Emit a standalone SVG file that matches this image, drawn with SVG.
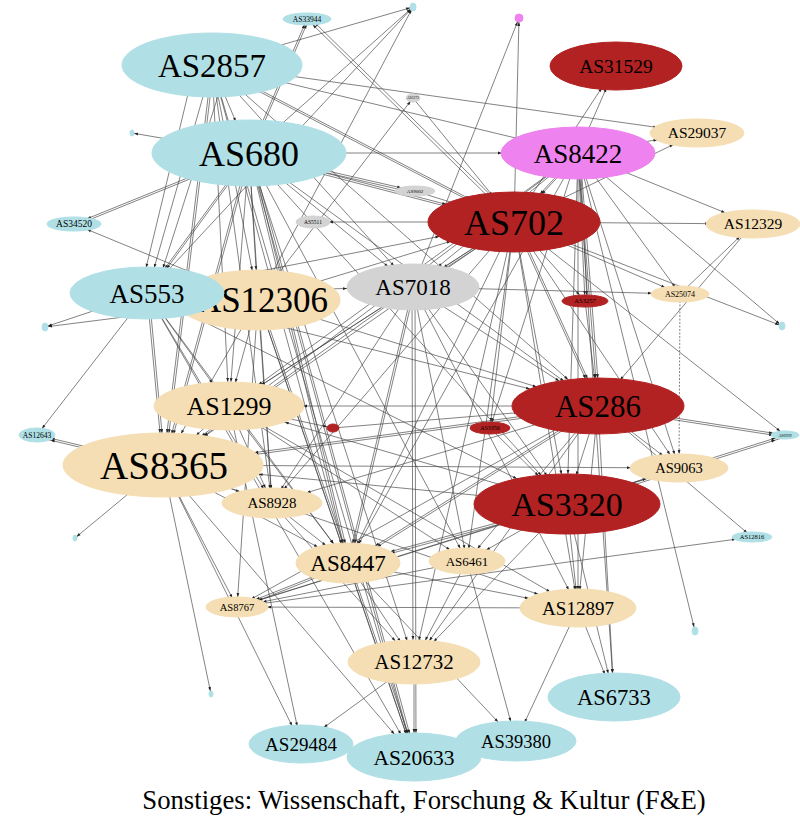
<svg xmlns="http://www.w3.org/2000/svg" width="800" height="835" viewBox="0 0 800 835">
<style>
.e line{stroke:#404040;stroke-width:0.65;fill:none}
marker path{fill:#222}
.blue{fill:#b0e0e6;stroke:#b0e0e6}
.wheat{fill:#f5deb3;stroke:#f5deb3}
.red{fill:#b22222;stroke:#b22222}
.vio{fill:#ee82ee;stroke:#ee82ee}
.grey{fill:#d3d3d3;stroke:#d3d3d3}
text{font-family:"Liberation Serif","Times New Roman",serif;text-anchor:middle;fill:#000}
</style>
<defs>
<marker id="a2" markerUnits="userSpaceOnUse" markerWidth="1" markerHeight="1" orient="auto" style="overflow:visible"><path d="M-6,-1.4L-2,0L-6,1.4z"/></marker>
<marker id="a3" markerUnits="userSpaceOnUse" markerWidth="1" markerHeight="1" orient="auto" style="overflow:visible"><path d="M-7,-1.4L-3,0L-7,1.4z"/></marker>
<marker id="a4" markerUnits="userSpaceOnUse" markerWidth="1" markerHeight="1" orient="auto" style="overflow:visible"><path d="M-8,-1.4L-4,0L-8,1.4z"/></marker>
<marker id="a6" markerUnits="userSpaceOnUse" markerWidth="1" markerHeight="1" orient="auto" style="overflow:visible"><path d="M-10,-1.4L-6,0L-10,1.4z"/></marker>
<marker id="a8" markerUnits="userSpaceOnUse" markerWidth="1" markerHeight="1" orient="auto" style="overflow:visible"><path d="M-12,-1.4L-8,0L-12,1.4z"/></marker>
<marker id="a10" markerUnits="userSpaceOnUse" markerWidth="1" markerHeight="1" orient="auto" style="overflow:visible"><path d="M-14,-1.4L-10,0L-14,1.4z"/></marker>
<marker id="a12" markerUnits="userSpaceOnUse" markerWidth="1" markerHeight="1" orient="auto" style="overflow:visible"><path d="M-16,-1.4L-12,0L-16,1.4z"/></marker>
<marker id="a14" markerUnits="userSpaceOnUse" markerWidth="1" markerHeight="1" orient="auto" style="overflow:visible"><path d="M-18,-1.4L-14,0L-18,1.4z"/></marker>
<marker id="a16" markerUnits="userSpaceOnUse" markerWidth="1" markerHeight="1" orient="auto" style="overflow:visible"><path d="M-20,-1.4L-16,0L-20,1.4z"/></marker>
<marker id="a18" markerUnits="userSpaceOnUse" markerWidth="1" markerHeight="1" orient="auto" style="overflow:visible"><path d="M-22,-1.4L-18,0L-22,1.4z"/></marker>
<marker id="a20" markerUnits="userSpaceOnUse" markerWidth="1" markerHeight="1" orient="auto" style="overflow:visible"><path d="M-24,-1.4L-20,0L-24,1.4z"/></marker>
<marker id="a22" markerUnits="userSpaceOnUse" markerWidth="1" markerHeight="1" orient="auto" style="overflow:visible"><path d="M-26,-1.4L-22,0L-26,1.4z"/></marker>
<marker id="a24" markerUnits="userSpaceOnUse" markerWidth="1" markerHeight="1" orient="auto" style="overflow:visible"><path d="M-28,-1.4L-24,0L-28,1.4z"/></marker>
<marker id="a26" markerUnits="userSpaceOnUse" markerWidth="1" markerHeight="1" orient="auto" style="overflow:visible"><path d="M-30,-1.4L-26,0L-30,1.4z"/></marker>
<marker id="a28" markerUnits="userSpaceOnUse" markerWidth="1" markerHeight="1" orient="auto" style="overflow:visible"><path d="M-32,-1.4L-28,0L-32,1.4z"/></marker>
<marker id="a30" markerUnits="userSpaceOnUse" markerWidth="1" markerHeight="1" orient="auto" style="overflow:visible"><path d="M-34,-1.4L-30,0L-34,1.4z"/></marker>
<marker id="a32" markerUnits="userSpaceOnUse" markerWidth="1" markerHeight="1" orient="auto" style="overflow:visible"><path d="M-36,-1.4L-32,0L-36,1.4z"/></marker>
<marker id="a34" markerUnits="userSpaceOnUse" markerWidth="1" markerHeight="1" orient="auto" style="overflow:visible"><path d="M-38,-1.4L-34,0L-38,1.4z"/></marker>
<marker id="a36" markerUnits="userSpaceOnUse" markerWidth="1" markerHeight="1" orient="auto" style="overflow:visible"><path d="M-40,-1.4L-36,0L-40,1.4z"/></marker>
<marker id="a38" markerUnits="userSpaceOnUse" markerWidth="1" markerHeight="1" orient="auto" style="overflow:visible"><path d="M-42,-1.4L-38,0L-42,1.4z"/></marker>
<marker id="a40" markerUnits="userSpaceOnUse" markerWidth="1" markerHeight="1" orient="auto" style="overflow:visible"><path d="M-44,-1.4L-40,0L-44,1.4z"/></marker>
<marker id="a42" markerUnits="userSpaceOnUse" markerWidth="1" markerHeight="1" orient="auto" style="overflow:visible"><path d="M-46,-1.4L-42,0L-46,1.4z"/></marker>
<marker id="a44" markerUnits="userSpaceOnUse" markerWidth="1" markerHeight="1" orient="auto" style="overflow:visible"><path d="M-48,-1.4L-44,0L-48,1.4z"/></marker>
<marker id="a46" markerUnits="userSpaceOnUse" markerWidth="1" markerHeight="1" orient="auto" style="overflow:visible"><path d="M-50,-1.4L-46,0L-50,1.4z"/></marker>
<marker id="a48" markerUnits="userSpaceOnUse" markerWidth="1" markerHeight="1" orient="auto" style="overflow:visible"><path d="M-52,-1.4L-48,0L-52,1.4z"/></marker>
<marker id="a50" markerUnits="userSpaceOnUse" markerWidth="1" markerHeight="1" orient="auto" style="overflow:visible"><path d="M-54,-1.4L-50,0L-54,1.4z"/></marker>
<marker id="a56" markerUnits="userSpaceOnUse" markerWidth="1" markerHeight="1" orient="auto" style="overflow:visible"><path d="M-60,-1.4L-56,0L-60,1.4z"/></marker>
<marker id="a58" markerUnits="userSpaceOnUse" markerWidth="1" markerHeight="1" orient="auto" style="overflow:visible"><path d="M-62,-1.4L-58,0L-62,1.4z"/></marker>
<marker id="a60" markerUnits="userSpaceOnUse" markerWidth="1" markerHeight="1" orient="auto" style="overflow:visible"><path d="M-64,-1.4L-60,0L-64,1.4z"/></marker>
<marker id="a64" markerUnits="userSpaceOnUse" markerWidth="1" markerHeight="1" orient="auto" style="overflow:visible"><path d="M-68,-1.4L-64,0L-68,1.4z"/></marker>
<marker id="a66" markerUnits="userSpaceOnUse" markerWidth="1" markerHeight="1" orient="auto" style="overflow:visible"><path d="M-70,-1.4L-66,0L-70,1.4z"/></marker>
<marker id="a70" markerUnits="userSpaceOnUse" markerWidth="1" markerHeight="1" orient="auto" style="overflow:visible"><path d="M-74,-1.4L-70,0L-74,1.4z"/></marker>
<marker id="a74" markerUnits="userSpaceOnUse" markerWidth="1" markerHeight="1" orient="auto" style="overflow:visible"><path d="M-78,-1.4L-74,0L-78,1.4z"/></marker>
<marker id="a76" markerUnits="userSpaceOnUse" markerWidth="1" markerHeight="1" orient="auto" style="overflow:visible"><path d="M-80,-1.4L-76,0L-80,1.4z"/></marker>
<marker id="a80" markerUnits="userSpaceOnUse" markerWidth="1" markerHeight="1" orient="auto" style="overflow:visible"><path d="M-84,-1.4L-80,0L-84,1.4z"/></marker>
<marker id="a92" markerUnits="userSpaceOnUse" markerWidth="1" markerHeight="1" orient="auto" style="overflow:visible"><path d="M-96,-1.4L-92,0L-96,1.4z"/></marker>
<marker id="a96" markerUnits="userSpaceOnUse" markerWidth="1" markerHeight="1" orient="auto" style="overflow:visible"><path d="M-100,-1.4L-96,0L-100,1.4z"/></marker>
</defs>
<rect width="800" height="835" fill="#fff"/>
<g id="edges" class="e">
<line x1="212" y1="65" x2="413" y2="7" marker-end="url(#a3)"/>
<line x1="249" y1="153" x2="413" y2="7" marker-end="url(#a3)"/>
<line x1="147" y1="293" x2="413" y2="7" marker-end="url(#a3)"/>
<line x1="258" y1="300" x2="413" y2="7" marker-end="url(#a3)"/>
<line x1="249" y1="153" x2="307" y2="19" marker-end="url(#a6)"/>
<line x1="251" y1="153" x2="309" y2="19" marker-end="url(#a6)"/>
<line x1="514" y1="222" x2="307" y2="19" marker-end="url(#a8)"/>
<line x1="516" y1="220" x2="309" y2="17" marker-end="url(#a8)"/>
<line x1="514" y1="222" x2="519" y2="18" marker-end="url(#a4)"/>
<line x1="413" y1="287" x2="519" y2="18" marker-end="url(#a4)"/>
<line x1="258" y1="300" x2="413" y2="98" marker-end="url(#a4)"/>
<line x1="413" y1="98" x2="514" y2="222" marker-end="url(#a34)"/>
<line x1="249" y1="153" x2="415" y2="191" marker-end="url(#a14)"/>
<line x1="249" y1="155" x2="415" y2="193" marker-end="url(#a14)"/>
<line x1="415" y1="191" x2="514" y2="222" marker-end="url(#a60)"/>
<line x1="514" y1="222" x2="313" y2="222" marker-end="url(#a16)"/>
<line x1="249" y1="153" x2="74" y2="224" marker-end="url(#a14)"/>
<line x1="249" y1="155" x2="74" y2="226" marker-end="url(#a14)"/>
<line x1="258" y1="300" x2="74" y2="224" marker-end="url(#a14)"/>
<line x1="249" y1="153" x2="132" y2="133" marker-end="url(#a2)"/>
<line x1="147" y1="293" x2="45" y2="327" marker-end="url(#a3)"/>
<line x1="258" y1="300" x2="45" y2="327" marker-end="url(#a3)"/>
<line x1="147" y1="293" x2="37" y2="435" marker-end="url(#a8)"/>
<line x1="163" y1="465" x2="37" y2="435" marker-end="url(#a14)"/>
<line x1="163" y1="467" x2="37" y2="437" marker-end="url(#a14)"/>
<line x1="163" y1="465" x2="75" y2="538" marker-end="url(#a2)"/>
<line x1="163" y1="465" x2="211" y2="694" marker-end="url(#a3)"/>
<line x1="578" y1="153" x2="695" y2="631" marker-end="url(#a4)"/>
<line x1="514" y1="222" x2="782" y2="326" marker-end="url(#a3)"/>
<line x1="578" y1="153" x2="782" y2="326" marker-end="url(#a3)"/>
<line x1="514" y1="222" x2="785" y2="435" marker-end="url(#a6)"/>
<line x1="598" y1="406" x2="785" y2="435" marker-end="url(#a12)"/>
<line x1="598" y1="408" x2="785" y2="437" marker-end="url(#a12)"/>
<line x1="567" y1="504" x2="785" y2="435" marker-end="url(#a10)"/>
<line x1="567" y1="506" x2="785" y2="437" marker-end="url(#a10)"/>
<line x1="598" y1="406" x2="752" y2="537" marker-end="url(#a6)"/>
<line x1="237" y1="607" x2="752" y2="537" marker-end="url(#a16)"/>
<line x1="212" y1="65" x2="697" y2="133" marker-end="url(#a40)"/>
<line x1="578" y1="153" x2="697" y2="133" marker-end="url(#a40)"/>
<line x1="514" y1="222" x2="697" y2="133" marker-end="url(#a26)"/>
<line x1="578" y1="153" x2="616" y2="66" marker-end="url(#a24)"/>
<line x1="514" y1="222" x2="616" y2="66" marker-end="url(#a26)"/>
<line x1="578" y1="153" x2="753" y2="224" marker-end="url(#a30)"/>
<line x1="514" y1="222" x2="753" y2="224" marker-end="url(#a44)"/>
<line x1="680" y1="294" x2="753" y2="224" marker-end="url(#a18)"/>
<line x1="753" y1="224" x2="598" y2="406" marker-end="url(#a34)"/>
<line x1="578" y1="153" x2="680" y2="294" marker-end="url(#a8)"/>
<line x1="514" y1="222" x2="680" y2="294" marker-end="url(#a16)"/>
<line x1="680" y1="294" x2="679" y2="468" marker-end="url(#a14)" stroke-dasharray="2,1.5"/>
<line x1="578" y1="153" x2="585" y2="301" marker-end="url(#a6)"/>
<line x1="580" y1="153" x2="587" y2="301" marker-end="url(#a6)"/>
<line x1="514" y1="222" x2="585" y2="301" marker-end="url(#a8)"/>
<line x1="585" y1="301" x2="598" y2="406" marker-end="url(#a28)"/>
<line x1="514" y1="222" x2="490" y2="428" marker-end="url(#a6)"/>
<line x1="578" y1="153" x2="490" y2="428" marker-end="url(#a6)"/>
<line x1="490" y1="428" x2="567" y2="504" marker-end="url(#a40)"/>
<line x1="229" y1="406" x2="333" y2="428" marker-end="url(#a6)"/>
<line x1="333" y1="428" x2="598" y2="406" marker-end="url(#a80)"/>
<line x1="212" y1="65" x2="249" y2="153" marker-end="url(#a34)"/>
<line x1="195" y1="65" x2="140" y2="293" marker-end="url(#a26)"/>
<line x1="212" y1="65" x2="147" y2="293" marker-end="url(#a26)"/>
<line x1="228" y1="65" x2="155" y2="293" marker-end="url(#a26)"/>
<line x1="212" y1="65" x2="258" y2="300" marker-end="url(#a30)"/>
<line x1="212" y1="65" x2="229" y2="406" marker-end="url(#a24)"/>
<line x1="212" y1="65" x2="163" y2="465" marker-end="url(#a32)"/>
<line x1="214" y1="65" x2="165" y2="465" marker-end="url(#a32)"/>
<line x1="212" y1="65" x2="272" y2="503" marker-end="url(#a14)"/>
<line x1="212" y1="65" x2="348" y2="563" marker-end="url(#a20)"/>
<line x1="212" y1="65" x2="414" y2="757" marker-end="url(#a24)"/>
<line x1="212" y1="65" x2="413" y2="287" marker-end="url(#a28)"/>
<line x1="212" y1="65" x2="514" y2="222" marker-end="url(#a50)"/>
<line x1="212" y1="67" x2="514" y2="224" marker-end="url(#a50)"/>
<line x1="212" y1="65" x2="578" y2="153" marker-end="url(#a60)"/>
<line x1="212" y1="65" x2="598" y2="406" marker-end="url(#a40)"/>
<line x1="249" y1="153" x2="147" y2="293" marker-end="url(#a30)"/>
<line x1="251" y1="153" x2="149" y2="293" marker-end="url(#a30)"/>
<line x1="249" y1="153" x2="258" y2="300" marker-end="url(#a30)"/>
<line x1="249" y1="153" x2="229" y2="406" marker-end="url(#a24)"/>
<line x1="249" y1="153" x2="163" y2="465" marker-end="url(#a32)"/>
<line x1="251" y1="153" x2="165" y2="465" marker-end="url(#a32)"/>
<line x1="249" y1="153" x2="272" y2="503" marker-end="url(#a14)"/>
<line x1="249" y1="153" x2="348" y2="563" marker-end="url(#a20)"/>
<line x1="251" y1="153" x2="350" y2="563" marker-end="url(#a20)"/>
<line x1="249" y1="153" x2="414" y2="662" marker-end="url(#a22)"/>
<line x1="249" y1="153" x2="414" y2="757" marker-end="url(#a24)"/>
<line x1="251" y1="153" x2="416" y2="757" marker-end="url(#a24)"/>
<line x1="249" y1="153" x2="413" y2="287" marker-end="url(#a32)"/>
<line x1="249" y1="153" x2="514" y2="222" marker-end="url(#a70)"/>
<line x1="249" y1="155" x2="514" y2="224" marker-end="url(#a70)"/>
<line x1="249" y1="153" x2="578" y2="153" marker-end="url(#a76)"/>
<line x1="249" y1="153" x2="598" y2="406" marker-end="url(#a42)"/>
<line x1="249" y1="153" x2="567" y2="504" marker-end="url(#a38)"/>
<line x1="249" y1="153" x2="467" y2="561" marker-end="url(#a14)"/>
<line x1="147" y1="293" x2="163" y2="465" marker-end="url(#a32)"/>
<line x1="149" y1="293" x2="165" y2="465" marker-end="url(#a32)"/>
<line x1="147" y1="293" x2="229" y2="406" marker-end="url(#a28)"/>
<line x1="147" y1="293" x2="272" y2="503" marker-end="url(#a16)"/>
<line x1="147" y1="293" x2="348" y2="563" marker-end="url(#a24)"/>
<line x1="147" y1="293" x2="414" y2="757" marker-end="url(#a26)"/>
<line x1="147" y1="293" x2="598" y2="406" marker-end="url(#a70)"/>
<line x1="147" y1="293" x2="567" y2="504" marker-end="url(#a56)"/>
<line x1="147" y1="293" x2="413" y2="287" marker-end="url(#a66)"/>
<line x1="147" y1="293" x2="514" y2="222" marker-end="url(#a76)"/>
<line x1="258" y1="300" x2="163" y2="465" marker-end="url(#a36)"/>
<line x1="258" y1="300" x2="229" y2="406" marker-end="url(#a24)"/>
<line x1="258" y1="300" x2="272" y2="503" marker-end="url(#a14)"/>
<line x1="258" y1="300" x2="414" y2="757" marker-end="url(#a24)"/>
<line x1="260" y1="300" x2="416" y2="757" marker-end="url(#a24)"/>
<line x1="258" y1="300" x2="348" y2="563" marker-end="url(#a20)"/>
<line x1="258" y1="300" x2="598" y2="406" marker-end="url(#a64)"/>
<line x1="258" y1="300" x2="514" y2="222" marker-end="url(#a66)"/>
<line x1="258" y1="300" x2="237" y2="607" marker-end="url(#a10)"/>
<line x1="413" y1="287" x2="229" y2="406" marker-end="url(#a38)"/>
<line x1="413" y1="287" x2="163" y2="465" marker-end="url(#a50)"/>
<line x1="413" y1="287" x2="272" y2="503" marker-end="url(#a16)"/>
<line x1="413" y1="287" x2="348" y2="563" marker-end="url(#a20)"/>
<line x1="415" y1="287" x2="350" y2="563" marker-end="url(#a20)"/>
<line x1="415" y1="287" x2="416" y2="757" marker-end="url(#a24)"/>
<line x1="412" y1="287" x2="413" y2="662" marker-end="url(#a22)"/>
<line x1="413" y1="287" x2="598" y2="406" marker-end="url(#a46)"/>
<line x1="413" y1="287" x2="567" y2="504" marker-end="url(#a34)"/>
<line x1="413" y1="287" x2="578" y2="608" marker-end="url(#a20)"/>
<line x1="413" y1="287" x2="467" y2="561" marker-end="url(#a12)"/>
<line x1="413" y1="287" x2="680" y2="294" marker-end="url(#a28)"/>
<line x1="514" y1="222" x2="413" y2="287" marker-end="url(#a36)"/>
<line x1="514" y1="224" x2="413" y2="289" marker-end="url(#a36)"/>
<line x1="514" y1="222" x2="598" y2="406" marker-end="url(#a30)"/>
<line x1="516" y1="222" x2="600" y2="406" marker-end="url(#a30)"/>
<line x1="514" y1="222" x2="567" y2="504" marker-end="url(#a30)"/>
<line x1="514" y1="222" x2="348" y2="563" marker-end="url(#a20)"/>
<line x1="514" y1="222" x2="414" y2="662" marker-end="url(#a22)"/>
<line x1="514" y1="222" x2="229" y2="406" marker-end="url(#a38)"/>
<line x1="514" y1="222" x2="163" y2="465" marker-end="url(#a50)"/>
<line x1="514" y1="222" x2="578" y2="608" marker-end="url(#a18)"/>
<line x1="514" y1="222" x2="679" y2="468" marker-end="url(#a16)"/>
<line x1="514" y1="222" x2="467" y2="561" marker-end="url(#a12)"/>
<line x1="514" y1="222" x2="272" y2="503" marker-end="url(#a18)"/>
<line x1="578" y1="153" x2="514" y2="222" marker-end="url(#a38)"/>
<line x1="580" y1="153" x2="516" y2="222" marker-end="url(#a38)"/>
<line x1="578" y1="153" x2="598" y2="406" marker-end="url(#a28)"/>
<line x1="580" y1="153" x2="600" y2="406" marker-end="url(#a28)"/>
<line x1="578" y1="153" x2="567" y2="504" marker-end="url(#a30)"/>
<line x1="578" y1="153" x2="413" y2="287" marker-end="url(#a32)"/>
<line x1="578" y1="153" x2="229" y2="406" marker-end="url(#a36)"/>
<line x1="578" y1="153" x2="163" y2="465" marker-end="url(#a48)"/>
<line x1="578" y1="153" x2="578" y2="608" marker-end="url(#a18)"/>
<line x1="578" y1="153" x2="614" y2="697" marker-end="url(#a24)"/>
<line x1="578" y1="153" x2="679" y2="468" marker-end="url(#a14)"/>
<line x1="578" y1="153" x2="348" y2="563" marker-end="url(#a22)"/>
<line x1="598" y1="406" x2="229" y2="406" marker-end="url(#a74)"/>
<line x1="598" y1="406" x2="163" y2="465" marker-end="url(#a92)"/>
<line x1="598" y1="408" x2="163" y2="467" marker-end="url(#a92)"/>
<line x1="598" y1="406" x2="272" y2="503" marker-end="url(#a36)"/>
<line x1="598" y1="406" x2="348" y2="563" marker-end="url(#a32)"/>
<line x1="600" y1="407" x2="350" y2="564" marker-end="url(#a32)"/>
<line x1="598" y1="406" x2="414" y2="662" marker-end="url(#a26)"/>
<line x1="598" y1="406" x2="567" y2="504" marker-end="url(#a30)"/>
<line x1="598" y1="406" x2="614" y2="697" marker-end="url(#a24)"/>
<line x1="598" y1="406" x2="578" y2="608" marker-end="url(#a18)"/>
<line x1="598" y1="406" x2="679" y2="468" marker-end="url(#a20)"/>
<line x1="598" y1="406" x2="467" y2="561" marker-end="url(#a16)"/>
<line x1="598" y1="406" x2="237" y2="607" marker-end="url(#a16)"/>
<line x1="567" y1="504" x2="348" y2="563" marker-end="url(#a44)"/>
<line x1="567" y1="506" x2="348" y2="565" marker-end="url(#a44)"/>
<line x1="567" y1="504" x2="414" y2="662" marker-end="url(#a28)"/>
<line x1="567" y1="504" x2="578" y2="608" marker-end="url(#a18)"/>
<line x1="567" y1="504" x2="614" y2="697" marker-end="url(#a24)"/>
<line x1="567" y1="504" x2="237" y2="607" marker-end="url(#a22)"/>
<line x1="567" y1="504" x2="679" y2="468" marker-end="url(#a34)"/>
<line x1="567" y1="504" x2="467" y2="561" marker-end="url(#a22)"/>
<line x1="567" y1="504" x2="163" y2="465" marker-end="url(#a96)"/>
<line x1="567" y1="504" x2="229" y2="406" marker-end="url(#a58)"/>
<line x1="229" y1="406" x2="163" y2="465" marker-end="url(#a44)"/>
<line x1="229" y1="406" x2="272" y2="503" marker-end="url(#a16)"/>
<line x1="229" y1="406" x2="348" y2="563" marker-end="url(#a24)"/>
<line x1="229" y1="406" x2="301" y2="744" marker-end="url(#a18)"/>
<line x1="229" y1="406" x2="578" y2="608" marker-end="url(#a32)"/>
<line x1="229" y1="406" x2="467" y2="561" marker-end="url(#a20)"/>
<line x1="163" y1="465" x2="272" y2="503" marker-end="url(#a34)"/>
<line x1="163" y1="465" x2="237" y2="607" marker-end="url(#a10)"/>
<line x1="163" y1="465" x2="301" y2="744" marker-end="url(#a20)"/>
<line x1="163" y1="465" x2="578" y2="608" marker-end="url(#a42)"/>
<line x1="163" y1="465" x2="679" y2="468" marker-end="url(#a48)"/>
<line x1="163" y1="465" x2="414" y2="757" marker-end="url(#a30)"/>
<line x1="163" y1="465" x2="348" y2="563" marker-end="url(#a34)"/>
<line x1="272" y1="503" x2="348" y2="563" marker-end="url(#a28)"/>
<line x1="272" y1="503" x2="414" y2="662" marker-end="url(#a28)"/>
<line x1="348" y1="563" x2="414" y2="662" marker-end="url(#a24)"/>
<line x1="348" y1="563" x2="414" y2="757" marker-end="url(#a24)"/>
<line x1="348" y1="563" x2="516" y2="741" marker-end="url(#a26)"/>
<line x1="348" y1="563" x2="237" y2="607" marker-end="url(#a20)"/>
<line x1="348" y1="565" x2="237" y2="609" marker-end="url(#a20)"/>
<line x1="348" y1="563" x2="578" y2="608" marker-end="url(#a50)"/>
<line x1="467" y1="561" x2="414" y2="662" marker-end="url(#a24)"/>
<line x1="467" y1="561" x2="237" y2="607" marker-end="url(#a26)"/>
<line x1="578" y1="608" x2="516" y2="741" marker-end="url(#a20)"/>
<line x1="578" y1="608" x2="614" y2="697" marker-end="url(#a24)"/>
<line x1="578" y1="608" x2="237" y2="607" marker-end="url(#a30)"/>
<line x1="414" y1="662" x2="301" y2="744" marker-end="url(#a28)"/>
<line x1="414" y1="662" x2="414" y2="757" marker-end="url(#a24)"/>
<line x1="467" y1="561" x2="516" y2="741" marker-end="url(#a20)"/>
<line x1="679" y1="468" x2="237" y2="607" marker-end="url(#a22)"/>
</g>
<g id="AS33944"><ellipse class="blue" cx="307" cy="19" rx="24" ry="6"/><text x="307" y="21.6" font-size="7.5">AS33944</text></g>
<g id="n_b1"><ellipse class="blue" cx="413" cy="7" rx="3" ry="4"/></g>
<g id="n_v1"><ellipse class="vio" cx="519" cy="18" rx="4" ry="4"/></g>
<g id="n_g1"><ellipse class="grey" cx="413" cy="98" rx="7" ry="4"/><text x="413" y="99.3" font-size="3.5">AS1273</text></g>
<g id="AS2857"><ellipse class="blue" cx="212" cy="65" rx="90" ry="32"/><text x="212" y="76.5" font-size="33">AS2857</text></g>
<g id="AS680"><ellipse class="blue" cx="249" cy="153" rx="97" ry="33"/><text x="249" y="165.6" font-size="36">AS680</text></g>
<g id="n_b2"><ellipse class="blue" cx="132" cy="133" rx="2" ry="3"/></g>
<g id="AS31529"><ellipse class="red" cx="616" cy="66" rx="66" ry="24"/><text x="616" y="73" font-size="19.5">AS31529</text></g>
<g id="AS8422"><ellipse class="vio" cx="578" cy="153" rx="77" ry="26"/><text x="578" y="162.5" font-size="27">AS8422</text></g>
<g id="AS29037"><ellipse class="wheat" cx="697" cy="133" rx="47" ry="14"/><text x="697" y="138.4" font-size="15.5">AS29037</text></g>
<g id="AS9002"><ellipse class="grey" cx="415" cy="191" rx="20" ry="5"/><text x="415" y="192.8" font-size="5">AS9002</text></g>
<g id="AS5511"><ellipse class="grey" cx="313" cy="222" rx="17" ry="6"/><text x="313" y="224" font-size="5.5">AS5511</text></g>
<g id="AS34520"><ellipse class="blue" cx="74" cy="224" rx="27" ry="7"/><text x="74" y="227.3" font-size="9.5">AS34520</text></g>
<g id="AS702"><ellipse class="red" cx="514" cy="222" rx="86" ry="30"/><text x="514" y="234.6" font-size="36">AS702</text></g>
<g id="AS12329"><ellipse class="wheat" cx="753" cy="224" rx="47" ry="14"/><text x="753" y="229.4" font-size="15.5">AS12329</text></g>
<g id="AS25074"><ellipse class="wheat" cx="680" cy="294" rx="29" ry="8"/><text x="680" y="296.8" font-size="8">AS25074</text></g>
<g id="AS3257"><ellipse class="red" cx="585" cy="301" rx="23" ry="6"/><text x="585" y="303.3" font-size="6.5">AS3257</text></g>
<g id="n_b7"><ellipse class="blue" cx="782" cy="326" rx="3" ry="4"/></g>
<g id="n_b3"><ellipse class="blue" cx="45" cy="327" rx="3" ry="4"/></g>
<g id="AS12306"><ellipse class="wheat" cx="258" cy="300" rx="82" ry="30"/><text x="262" y="312.2" font-size="35">AS12306</text></g>
<g id="AS553"><ellipse class="blue" cx="147" cy="293" rx="77" ry="26"/><text x="147" y="302.5" font-size="27">AS553</text></g>
<g id="AS7018"><ellipse class="grey" cx="413" cy="287" rx="66" ry="23"/><text x="413" y="295" font-size="23">AS7018</text></g>
<g id="AS1299"><ellipse class="wheat" cx="229" cy="406" rx="75" ry="24"/><text x="229" y="415" font-size="26">AS1299</text></g>
<g id="n_r1"><ellipse class="red" cx="333" cy="428" rx="6" ry="4"/></g>
<g id="AS3356"><ellipse class="red" cx="490" cy="428" rx="20" ry="6"/><text x="490" y="430" font-size="6">AS3356</text></g>
<g id="AS286"><ellipse class="red" cx="598" cy="406" rx="86" ry="28"/><text x="598" y="416.8" font-size="31">AS286</text></g>
<g id="AS6939"><ellipse class="blue" cx="785" cy="435" rx="14" ry="4"/><text x="785" y="436.5" font-size="4">AS6939</text></g>
<g id="AS12643"><ellipse class="blue" cx="37" cy="435" rx="18" ry="7"/><text x="37" y="437.6" font-size="7.5">AS12643</text></g>
<g id="AS8365"><ellipse class="wheat" cx="163" cy="465" rx="100" ry="32"/><text x="164" y="478.6" font-size="39">AS8365</text></g>
<g id="AS9063"><ellipse class="wheat" cx="679" cy="468" rx="49" ry="14"/><text x="679" y="473" font-size="14.5">AS9063</text></g>
<g id="AS3320"><ellipse class="red" cx="567" cy="504" rx="93" ry="30"/><text x="567" y="516" font-size="34">AS3320</text></g>
<g id="AS8928"><ellipse class="wheat" cx="272" cy="503" rx="50" ry="15"/><text x="272" y="508.2" font-size="15">AS8928</text></g>
<g id="AS12816"><ellipse class="blue" cx="752" cy="537" rx="20" ry="5"/><text x="752" y="539.3" font-size="6.5">AS12816</text></g>
<g id="n_b4"><ellipse class="blue" cx="75" cy="538" rx="2" ry="3"/></g>
<g id="AS8447"><ellipse class="wheat" cx="348" cy="563" rx="52" ry="20"/><text x="348" y="571" font-size="23">AS8447</text></g>
<g id="AS6461"><ellipse class="wheat" cx="467" cy="561" rx="38" ry="13"/><text x="467" y="565.5" font-size="13">AS6461</text></g>
<g id="AS8767"><ellipse class="wheat" cx="237" cy="607" rx="31" ry="10"/><text x="237" y="610.7" font-size="10.5">AS8767</text></g>
<g id="AS12897"><ellipse class="wheat" cx="578" cy="608" rx="58" ry="19"/><text x="578" y="614.6" font-size="19">AS12897</text></g>
<g id="n_b6"><ellipse class="blue" cx="695" cy="631" rx="3" ry="4"/></g>
<g id="AS12732"><ellipse class="wheat" cx="414" cy="662" rx="66" ry="22"/><text x="414" y="669.4" font-size="21">AS12732</text></g>
<g id="n_b5"><ellipse class="blue" cx="211" cy="694" rx="2" ry="3"/></g>
<g id="AS6733"><ellipse class="blue" cx="614" cy="697" rx="66" ry="24"/><text x="614" y="704.9" font-size="22.5">AS6733</text></g>
<g id="AS29484"><ellipse class="blue" cx="301" cy="744" rx="52" ry="19"/><text x="301" y="750.6" font-size="19">AS29484</text></g>
<g id="AS39380"><ellipse class="blue" cx="516" cy="741" rx="60" ry="20"/><text x="516" y="747.5" font-size="18.5">AS39380</text></g>
<g id="AS20633"><ellipse class="blue" cx="414" cy="757" rx="67" ry="24"/><text x="414" y="764.5" font-size="21.5">AS20633</text></g>
<text x="424" y="808.5" font-size="26.7">Sonstiges: Wissenschaft, Forschung &amp; Kultur (F&amp;E)</text>
</svg>
